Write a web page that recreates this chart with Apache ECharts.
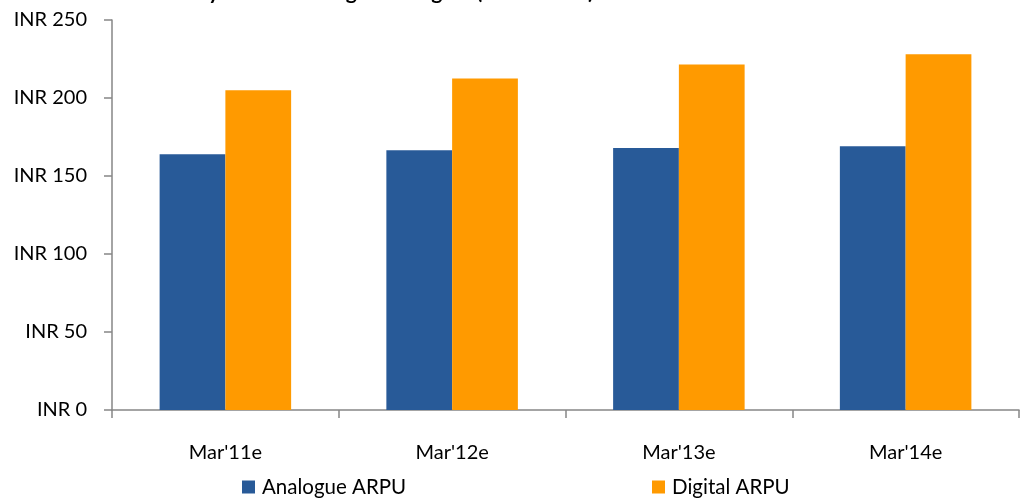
<!DOCTYPE html>
<html>
<head>
<meta charset="utf-8">
<script src="https://cdn.jsdelivr.net/npm/echarts@6/dist/echarts.min.js"></script>
<style>
  html, body { margin: 0; padding: 0; background: #ffffff; }
  #chart { width: 1025px; height: 499px; }
</style>
</head>
<body>
<div id="chart"></div>
<script>
// ARPU by fiscal year (INR per subscriber)
const categories = ["Mar'11e", "Mar'12e", "Mar'13e", "Mar'14e"];
const analogueArpu = [164, 166.5, 168, 169];
const digitalArpu = [205, 212.5, 221.5, 228];
const yTicks = { min: 0, max: 250, interval: 50 };
const seriesNames = ['Analogue ARPU', 'Digital ARPU'];
const titleText = 'Monthly ARPU: Analogue vs Digital (INR/month)';

const FONT = 'Lato, "Open Sans", sans-serif';
const BLUE = '#285A98';
const ORANGE = '#FF9A00';
const AXIS = '#868686';

const chart = echarts.init(document.getElementById('chart'), null, { renderer: 'canvas' });

const legendText = { fontFamily: FONT, fontSize: 20.5, lineHeight: 20, color: '#000000', padding: [0, 0, 0, 2] };

chart.setOption({
  animation: false,
  backgroundColor: '#ffffff',
  textStyle: { fontFamily: FONT },
  // title sits above the canvas edge, only its lowest strokes fall inside
  graphic: [{
    type: 'text',
    x: 140,
    y: 2.5,
    style: {
      text: titleText,
      font: 'bold 21px ' + FONT,
      fill: '#000000',
      verticalAlign: 'bottom'
    }
  }],
  grid: { left: 112, right: 6, top: 20, bottom: 89, containLabel: false },
  legend: [
    {
      data: [seriesNames[0]],
      left: 242, top: 476.5, padding: 0,
      itemWidth: 13, itemHeight: 13,
      icon: 'rect',
      textStyle: legendText
    },
    {
      data: [seriesNames[1]],
      left: 652, top: 476.5, padding: 0,
      itemWidth: 13, itemHeight: 13,
      icon: 'rect',
      textStyle: legendText
    }
  ],
  xAxis: {
    type: 'category',
    data: categories,
    axisLine: { lineStyle: { color: AXIS, width: 1.5 } },
    axisTick: { show: true, length: 8, lineStyle: { color: AXIS, width: 1.5 } },
    axisLabel: { fontFamily: FONT, fontSize: 20, color: '#000000', margin: 33 },
    splitLine: { show: false }
  },
  yAxis: {
    type: 'value',
    min: yTicks.min, max: yTicks.max, interval: yTicks.interval,
    axisLine: { show: true, lineStyle: { color: AXIS, width: 1.5 } },
    axisTick: { show: true, length: 8, lineStyle: { color: AXIS, width: 1.5 } },
    axisLabel: {
      fontFamily: FONT, fontSize: 20, color: '#000000', margin: 25,
      formatter: v => 'INR ' + v
    },
    splitLine: { show: false }
  },
  series: [
    {
      name: seriesNames[0],
      type: 'bar',
      data: analogueArpu,
      itemStyle: { color: BLUE },
      barGap: '0%',
      barCategoryGap: '42%'
    },
    {
      name: seriesNames[1],
      type: 'bar',
      data: digitalArpu,
      itemStyle: { color: ORANGE },
      barGap: '0%',
      barCategoryGap: '42%'
    }
  ]
});
</script>
</body>
</html>
